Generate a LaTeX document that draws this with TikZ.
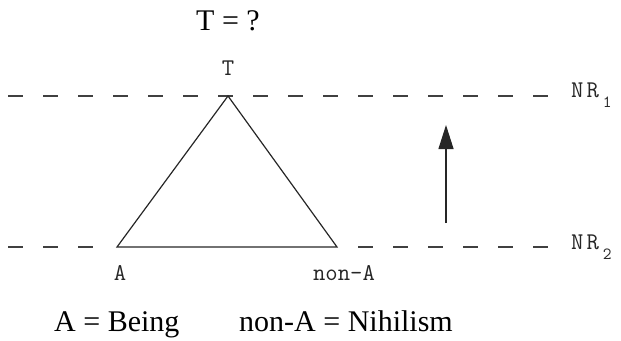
\documentclass[tikz,border=0pt]{standalone}
\usepackage{fontspec}
\setmainfont{Liberation Serif}
\setmonofont{Latin Modern Mono}
\usetikzlibrary{arrows.meta}
\newcommand{\nrsub}[1]{\hspace{4pt}\raisebox{-10pt}{\fontsize{17}{17}\selectfont #1}}
\begin{document}
\begin{tikzpicture}[x=1pt,y=-1pt,
  level/.style={draw=black!75,line width=1.2pt,dash pattern=on 15pt off 20pt},
  edge/.style={draw=black!85,line width=1.2pt},
  lbl/.style={font=\ttfamily\fontsize{24}{26}\selectfont,inner sep=0pt,text=black!85},
  big/.style={font=\fontsize{30}{34}\selectfont,inner sep=0pt}]
\useasboundingbox (0,0) rectangle (621,340);
\coordinate (T) at (228,96);
\coordinate (A) at (117,247);
\coordinate (nA) at (337,247);
\coordinate (L1) at (8,96);
\coordinate (R1) at (548,96);
\coordinate (L2) at (8,247);
\coordinate (M2) at (97,247);
\coordinate (N2) at (358,247);
\coordinate (R2) at (548,247);
\coordinate (up0) at (446,223);
\coordinate (up1) at (446,125);
\draw[level] (L1) -- (R1);
\draw[level] (L2) -- (M2);
\draw[level] (N2) -- (R2);
\draw[edge] (A) -- (T) -- (nA) -- cycle;
\draw[edge,-{Triangle[length=24pt,width=15pt]}] (up0) -- (up1);
\node[big,anchor=base] (q) at (228,30) {T = ?};
\node[lbl,anchor=base] (tT) at (228,75) {T};
\node[lbl,anchor=base] (tA) at (120,280) {A};
\node[lbl,anchor=base] (tnA) at (344,280) {non-A};
\node[lbl,anchor=base west] (nr1) at (571,97) {N\hspace{3pt}R\nrsub{1}};
\node[lbl,anchor=base west] (nr2) at (571,249) {N\hspace{3pt}R\nrsub{2}};
\node[big,anchor=base west] (b1) at (54,331) {A = Being};
\node[big,anchor=base west] (b2) at (239,331) {non-A = Nihilism};
\end{tikzpicture}
\end{document}
